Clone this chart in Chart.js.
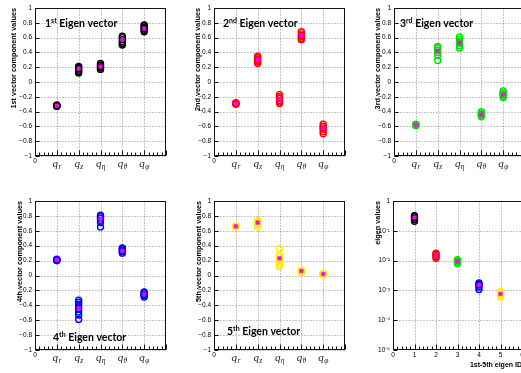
<!DOCTYPE html>
<html><head><meta charset="utf-8">
<script src="https://cdn.jsdelivr.net/npm/chart.js@4"></script>
<style>
html,body{margin:0;padding:0;background:#fff;width:521px;height:373px;overflow:hidden;position:relative}
canvas{position:absolute;left:0;top:0}
</style></head><body>
<canvas id="c1" width="540" height="373"></canvas>
<canvas id="c2" width="540" height="373"></canvas>
<canvas id="c3" width="540" height="373"></canvas>
<canvas id="c4" width="540" height="373"></canvas>
<canvas id="c5" width="540" height="373"></canvas>
<canvas id="c6" width="540" height="373"></canvas>
<script>
// ---------------- data ----------------
const categories = [1, 2, 3, 4, 5];
const qSubscripts = ['r', 'z', 'η', 'θ', 'φ'];
const eigenIds = [1, 2, 3, 4, 5];
const eigenYTicks = [1e-5, 1e-4, 1e-3, 1e-2, 1e-1, 1];

const vec1Runs = [
  [-0.33, -0.32, -0.32, -0.31, -0.32, -0.32],
  [0.12, 0.14, 0.16, 0.18, 0.20, 0.21],
  [0.17, 0.19, 0.20, 0.22, 0.23, 0.25],
  [0.50, 0.52, 0.54, 0.57, 0.60, 0.62],
  [0.68, 0.70, 0.72, 0.74, 0.76, 0.77]
];
const vec1Mean = [-0.32, 0.18, 0.21, 0.57, 0.72];

const vec2Runs = [
  [-0.30, -0.29, -0.29, -0.28, -0.29, -0.29],
  [0.25, 0.27, 0.29, 0.31, 0.33, 0.35],
  [-0.29, -0.27, -0.25, -0.22, -0.20, -0.17],
  [0.57, 0.59, 0.61, 0.63, 0.65, 0.68],
  [-0.70, -0.67, -0.64, -0.62, -0.60, -0.57]
];
const vec2Mean = [-0.29, 0.30, -0.23, 0.63, -0.62];

const vec3Runs = [
  [-0.59, -0.58, -0.58, -0.57, -0.58, -0.58],
  [0.29, 0.36, 0.40, 0.43, 0.46, 0.48],
  [0.46, 0.49, 0.52, 0.55, 0.58, 0.61],
  [-0.47, -0.45, -0.44, -0.43, -0.42, -0.40],
  [-0.21, -0.19, -0.17, -0.16, -0.14, -0.12]
];
const vec3Mean = [-0.58, 0.42, 0.53, -0.44, -0.17];

const vec4Runs = [
  [0.20, 0.21, 0.21, 0.22, 0.20, 0.21],
  [-0.33, -0.36, -0.39, -0.42, -0.45, -0.49, -0.53, -0.59],
  [0.65, 0.71, 0.74, 0.77, 0.79, 0.81],
  [0.30, 0.32, 0.33, 0.34, 0.36, 0.37],
  [-0.29, -0.27, -0.26, -0.25, -0.23, -0.22]
];
const vec4Mean = [0.21, -0.44, 0.76, 0.33, -0.25];

const vec5Runs = [
  [0.65, 0.66, 0.66, 0.67, 0.66, 0.66],
  [0.65, 0.68, 0.70, 0.72, 0.73, 0.74],
  [0.12, 0.15, 0.18, 0.21, 0.25, 0.28, 0.36],
  [0.04, 0.05, 0.05, 0.06, 0.06, 0.07],
  [0.01, 0.02, 0.02, 0.02, 0.03, 0.02]
];
const vec5Mean = [0.66, 0.71, 0.23, 0.06, 0.02];

const eigenRuns = [
  [0.21, 0.24, 0.27, 0.30, 0.32],
  [0.0120, 0.0135, 0.0150, 0.0165, 0.0178],
  [0.0079, 0.0087, 0.0094, 0.0101, 0.0107],
  [0.00107, 0.0013, 0.0015, 0.0016, 0.00178],
  [0.00059, 0.00068, 0.00076, 0.00085, 0.00093]
];
const eigenMean = [0.277, 0.0149, 0.0094, 0.0015, 0.00076];

// ---------------- styling ----------------
const seriesColors = ['#000000', '#ff0000', '#00e000', '#0000ff', '#ffee00'];
const meanColor = '#ff00ff';
const Y_AXIS_W = 30, X_AXIS_H = 20, CANVAS_W = 540, CANVAS_H = 373;

function line(ctx, x1, y1, x2, y2) { ctx.beginPath(); ctx.moveTo(x1, y1); ctx.lineTo(x2, y2); ctx.stroke(); }

const decor = {
  id: 'decor',
  beforeDatasetsDraw(chart, args, o) {
    const { ctx, chartArea: a, scales: { x, y } } = chart;
    const L = Math.round(a.left) + 0.5, R = Math.round(a.right) - 0.5;
    const T = Math.round(a.top) + 0.5, B = Math.round(a.bottom) - 0.5;
    ctx.save();
    ctx.lineWidth = 1;
    ctx.strokeStyle = 'rgba(90,90,90,0.7)';
    ctx.setLineDash([1, 2]);
    x.ticks.forEach(t => {
      if (t.value > x.min && t.value < x.max) {
        const p = Math.round(x.getPixelForValue(t.value)) + 0.5; line(ctx, p, T, p, B);
      }
    });
    y.ticks.forEach(t => {
      if (t.value > y.min * 1.0001 && t.value < y.max * 0.9999) {
        const p = Math.round(y.getPixelForValue(t.value)) + 0.5; line(ctx, L, p, R, p);
      }
    });
    ctx.setLineDash([]);
    ctx.strokeStyle = '#111';
    ctx.strokeRect(L, T, R - L, B - T);
    for (let i = 0; i <= (x.max - x.min) * 5; i++) {
      const v = x.min + i * 0.2;
      const major = i % 5 === 0;
      const p = Math.round(x.getPixelForValue(v)) + 0.5;
      line(ctx, p, B, p, B - (major ? 5 : 3));
    }
    y.ticks.forEach(t => {
      const p = Math.round(y.getPixelForValue(t.value)) + 0.5; line(ctx, L, p, L + 4, p);
    });
    ctx.restore();
  },
  afterDraw(chart, args, o) {
    const { ctx, chartArea: a, scales: { x } } = chart;
    ctx.save();
    ctx.fillStyle = '#000';
    // y title
    ctx.save();
    ctx.translate(a.left - o.yTitleOff, a.top);
    ctx.rotate(-Math.PI / 2);
    ctx.font = 'bold 7.3px "Liberation Sans"';
    ctx.textAlign = 'right'; ctx.textBaseline = 'middle';
    ctx.fillText(o.yTitle, 0, 0);
    ctx.restore();
    ctx.textAlign = 'left'; ctx.textBaseline = 'alphabetic';
    if (o.qLabels) {
      ctx.fillStyle = '#222';
      const fq = 'italic 11px "Liberation Serif"', fs = 'italic 7.5px "Liberation Serif"';
      o.qLabels.forEach((sub, k) => {
        ctx.font = fq; const wq = ctx.measureText('q').width;
        ctx.font = fs; const ws = ctx.measureText(sub).width;
        const cx = x.getPixelForValue(categories[k]);
        const x0 = cx - (wq + ws) / 2, by = a.bottom + 11;
        ctx.font = fq; ctx.fillText('q', x0, by);
        ctx.font = fs; ctx.fillText(sub, x0 + wq + 0.3, by + 2);
      });
      ctx.fillStyle = '#000';
    }
    if (o.note) {
      const [n, sup, rest] = o.note;
      const x0 = a.left + o.noteX, by = a.top + o.noteY;
      ctx.font = 'bold 10.5px Lato'; ctx.fillText(n, x0, by); const w1 = ctx.measureText(n).width;
      ctx.font = 'bold 7px Lato'; ctx.fillText(sup, x0 + w1, by - 4); const w2 = ctx.measureText(sup).width;
      ctx.font = 'bold 10.5px Lato'; ctx.fillText(rest, x0 + w1 + w2, by);
    }
    if (o.xTitle) {
      ctx.font = 'bold 7px "Liberation Sans"'; ctx.textAlign = 'right';
      ctx.fillText(o.xTitle, a.right, a.bottom + 17);
    }
    ctx.restore();
  }
};

const tickFont = { family: '"Liberation Sans"', size: 6.5 };
function fmtLin(v) { const r = Math.round(v * 10) / 10; return r < 0 ? '−' + Math.abs(r) : String(r); }
const supMap = { '-': '⁻', '0': '⁰', '1': '¹', '2': '²', '3': '³', '4': '⁴', '5': '⁵', '6': '⁶' };
function fmtLog(v) { const e = Math.round(Math.log10(v)); return e === 0 ? '1' : '10' + String(e).split('').map(c => supMap[c]).join(''); }

function padFor(area) {
  return { left: area.L - Y_AXIS_W, top: area.T, right: CANVAS_W - area.R, bottom: CANVAS_H - area.B - X_AXIS_H };
}

function makeChart(id, area, datasets, yScale, xLabelAll, decorOpts) {
  new Chart(document.getElementById(id), {
    type: 'scatter',
    data: { datasets },
    plugins: [decor],
    options: {
      responsive: false, animation: false, events: [],
      layout: { padding: padFor(area) },
      plugins: { legend: { display: false }, tooltip: { enabled: false }, decor: decorOpts },
      scales: {
        x: {
          type: 'linear', min: 0, max: 6,
          afterFit: s => { s.height = X_AXIS_H; },
          grid: { display: false, drawTicks: false }, border: { display: false },
          ticks: { stepSize: 1, maxRotation: 0, autoSkip: false, padding: 1, font: tickFont, color: '#000',
            callback: v => (xLabelAll || v === 0) ? String(v) : '' }
        },
        y: Object.assign({
          afterFit: s => { s.width = Y_AXIS_W; },
          grid: { display: false, drawTicks: false }, border: { display: false }
        }, yScale)
      }
    }
  });
}

const linY = { type: 'linear', min: -1, max: 1,
  ticks: { stepSize: 0.2, autoSkip: false, padding: 3, font: tickFont, color: '#000', callback: fmtLin } };

function vecDatasets(runs, mean, color) {
  return [
    { data: mean.map((v, k) => ({ x: categories[k], y: v })), pointStyle: 'rect', pointRadius: 2.5,
      backgroundColor: meanColor, borderColor: meanColor, borderWidth: 0.5 },
    { data: runs.flatMap((arr, k) => arr.map(v => ({ x: categories[k], y: v }))), pointStyle: 'circle',
      pointRadius: 3, borderWidth: 1.4, borderColor: color, backgroundColor: 'rgba(0,0,0,0)' }
  ];
}

makeChart('c1', { L: 35, T: 8, R: 166, B: 156 }, vecDatasets(vec1Runs, vec1Mean, seriesColors[0]), linY, false,
  { yTitle: '1st vector component values', yTitleOff: 21, qLabels: qSubscripts, note: ['1', 'st', ' Eigen vector'], noteX: 10, noteY: 19 });
makeChart('c2', { L: 214, T: 8, R: 345, B: 156 }, vecDatasets(vec2Runs, vec2Mean, seriesColors[1]), linY, false,
  { yTitle: '2nd vector component values', yTitleOff: 16, qLabels: qSubscripts, note: ['2', 'nd', ' Eigen vector'], noteX: 9, noteY: 19 });
makeChart('c3', { L: 394, T: 8, R: 525, B: 156 }, vecDatasets(vec3Runs, vec3Mean, seriesColors[2]), linY, false,
  { yTitle: '3rd vector component values', yTitleOff: 16, qLabels: qSubscripts, note: ['3', 'rd', ' Eigen vector'], noteX: 6, noteY: 19 });
makeChart('c4', { L: 35, T: 201, R: 166, B: 350 }, vecDatasets(vec4Runs, vec4Mean, seriesColors[3]), linY, false,
  { yTitle: '4th vector component values', yTitleOff: 15, qLabels: qSubscripts, note: ['4', 'th', ' Eigen vector'], noteX: 18, noteY: 140 });
makeChart('c5', { L: 214, T: 201, R: 345, B: 350 }, vecDatasets(vec5Runs, vec5Mean, seriesColors[4]), linY, false,
  { yTitle: '5th vector component values', yTitleOff: 15, qLabels: qSubscripts, note: ['5', 'th', ' Eigen vector'], noteX: 13, noteY: 134 });

const eigenSets = [{ data: eigenMean.map((v, k) => ({ x: eigenIds[k], y: v })), pointStyle: 'rect', pointRadius: 2.5,
  backgroundColor: meanColor, borderColor: meanColor, borderWidth: 0.5 }].concat(
  eigenRuns.map((arr, k) => ({ data: arr.map(v => ({ x: eigenIds[k], y: v })), pointStyle: 'circle', pointRadius: 3,
    borderWidth: 1.4, borderColor: seriesColors[k], backgroundColor: 'rgba(0,0,0,0)' })));
const logY = { type: 'logarithmic', min: 1e-5, max: 1,
  afterBuildTicks: s => { s.ticks = eigenYTicks.map(v => ({ value: v })); },
  ticks: { autoSkip: false, padding: 3, font: tickFont, color: '#000', callback: fmtLog } };
makeChart('c6', { L: 393, T: 201, R: 522, B: 350 }, eigenSets, logY, true,
  { yTitle: 'eigen values', yTitleOff: 15, xTitle: '1st-5th eigen ID' });
</script>
</body></html>
